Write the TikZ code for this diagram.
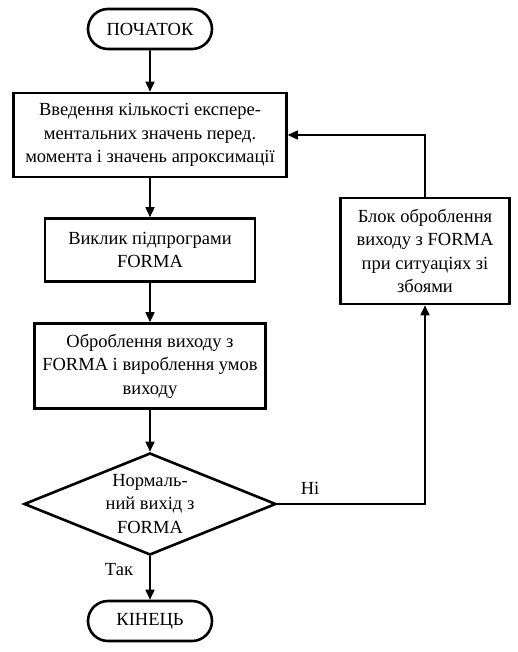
\documentclass[tikz,border=0pt]{standalone}
\usepackage{fontspec}
\setmainfont{Liberation Serif}
\usetikzlibrary{arrows.meta,shapes.geometric,shapes.misc}

\begin{document}
\begin{tikzpicture}[x=1pt,y=-1pt,
  every node/.style={font=\fontsize{18.5}{23.5}\selectfont,inner sep=0pt},
  termbox/.style={draw,line width=2.6pt,rounded rectangle,minimum width=124pt,minimum height=40pt},
  procbox/.style={draw,line width=2.6pt,rectangle,align=center},
  decbox/.style={draw,line width=2.6pt,diamond,align=center,aspect=2.42,inner sep=-6pt,
    minimum width=252pt,minimum height=102pt},
  flow/.style={line width=1.6pt,-{Triangle[length=10pt,width=9pt]}}]
\useasboundingbox (0,0) rectangle (517,652);

\node[termbox] (start) at (150,29) {ПОЧАТОК};
\node[procbox,minimum width=273pt,minimum height=84pt] (input) at (150,135)
  {Введення кількості експере-\\ментальних значень перед.\\момента і значень апроксимації};
\node[procbox,minimum width=210pt,minimum height=63pt] (call) at (150,250)
  {Виклик підпрограми\\FORMA};
\node[procbox,minimum width=231pt,minimum height=85pt] (proc) at (150,366)
  {Оброблення виходу з\\FORMA і вироблення умов\\виходу};
\node[decbox] (check) at (150,504) {Нормаль-\\ний вихід з\\FORMA};
\node[procbox,minimum width=169pt,minimum height=106pt] (fail) at (425,251)
  {Блок оброблення\\виходу з FORMA\\при ситуаціях зі\\збоями};
\node[termbox] (stop) at (150,621) {КІНЕЦЬ};

\node (no) at (310,488) {Ні};
\node (yes) at (119,570) {Так};

\draw[flow] (start) -- (input);
\draw[flow] (input) -- (call);
\draw[flow] (call) -- (proc);
\draw[flow] (proc) -- (check);
\draw[flow] (check) -- (stop);
\draw[flow] (check.east) -| (fail.south);
\draw[flow] (fail.north) |- (input.east);

\end{tikzpicture}
\end{document}
